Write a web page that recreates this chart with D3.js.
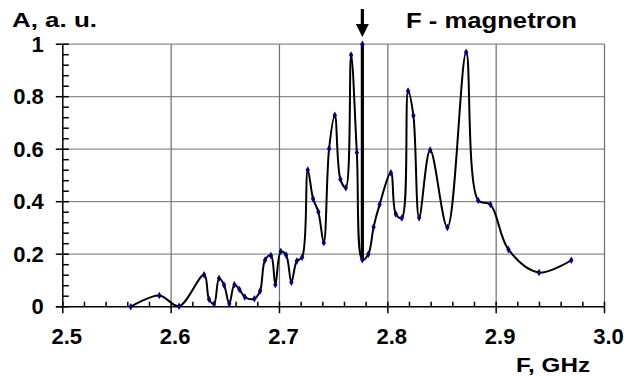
<!DOCTYPE html>
<html>
<head>
<meta charset="utf-8">
<script src="https://cdn.jsdelivr.net/npm/d3@7"></script>
<style>
  html, body { margin: 0; padding: 0; background: #fff; }
  svg { display: block; }
  text { font-family: "Liberation Sans", Arial, sans-serif; font-weight: bold; fill: #000; }
</style>
</head>
<body>
<svg id="chart" width="630" height="376"></svg>
<script>
// ---- data ----
const freqGHz = [2.5627, 2.5891, 2.6073, 2.6304, 2.635, 2.6396, 2.6442, 2.6488, 2.6537, 2.6584,
  2.663, 2.668, 2.6768, 2.6821, 2.6867, 2.6921, 2.6962, 2.7012, 2.7061, 2.711,
  2.716, 2.7209, 2.7261, 2.731, 2.7359, 2.7409, 2.7458, 2.7511, 2.7562, 2.7612,
  2.7661, 2.7714, 2.7765, 2.782, 2.7869, 2.7924, 2.8028, 2.8074, 2.8129, 2.8187,
  2.8236, 2.8289, 2.8391, 2.855, 2.8723, 2.8834, 2.8947, 2.9113, 2.9395, 2.9693];
const amplitude = [0.0, 0.043, 0.002, 0.122, 0.028, 0.01, 0.108, 0.083, 0.011, 0.084,
  0.066, 0.037, 0.03, 0.06, 0.178, 0.195, 0.084, 0.21, 0.197, 0.093,
  0.174, 0.188, 0.521, 0.411, 0.361, 0.244, 0.602, 0.729, 0.486, 0.453,
  0.959, 0.587, 0.179, 0.2, 0.304, 0.389, 0.51, 0.353, 0.338, 0.822,
  0.728, 0.339, 0.597, 0.302, 0.969, 0.405, 0.389, 0.218, 0.13, 0.177];
const magnetronFreq = [2.7765];
const magnetronAmp = [1.0];
const xTicks = [2.5, 2.6, 2.7, 2.8, 2.9, 3.0];
const xTickLabels = ["2.5", "2.6", "2.7", "2.8", "2.9", "3.0"];
const yTicks = [0, 0.2, 0.4, 0.6, 0.8, 1];
const yTickLabels = ["0", "0.2", "0.4", "0.6", "0.8", "1"];
const yAxisTitle = "A, a. u.";
const xAxisTitle = "F, GHz";
const markerTitle = "F - magnetron";

// ---- layout ----
const svg = d3.select("#chart");
const L = 62.8, R = 604.5, T = 44.2, B = 306.7;
const x = d3.scaleLinear().domain([2.5, 3.0]).range([L, R]);
const y = d3.scaleLinear().domain([0, 1]).range([B, T]);

// grid
const grid = svg.append("g");
grid.selectAll(".hg").data(yTicks.filter(d => d > 0)).enter().append("line")
  .attr("x1", L).attr("x2", R).attr("y1", d => y(d)).attr("y2", d => y(d))
  .attr("stroke", "#8c8c8c").attr("stroke-width", 1.2);
grid.selectAll(".vg").data(xTicks.filter(d => d > 2.5)).enter().append("line")
  .attr("x1", d => x(d)).attr("x2", d => x(d)).attr("y1", T).attr("y2", B)
  .attr("stroke", "#6e6e6e").attr("stroke-width", 1.2);

// x axis
const xAxisG = svg.append("g").attr("transform", `translate(0,${B})`);
xAxisG.append("line").attr("x1", 56).attr("x2", R).attr("y1", 0).attr("y2", 0)
  .attr("stroke", "#000").attr("stroke-width", 1.5);
xAxisG.selectAll(".minor").data(d3.range(1, 25).map(i => 2.5 + i * 0.02).filter(v => Math.abs(v * 10 - Math.round(v * 10)) > 1e-6))
  .enter().append("line").attr("x1", d => x(d)).attr("x2", d => x(d)).attr("y1", -5).attr("y2", 0)
  .attr("stroke", "#000").attr("stroke-width", 1.5);
xAxisG.selectAll(".major").data(xTicks).enter().append("line")
  .attr("x1", d => x(d)).attr("x2", d => x(d)).attr("y1", -5).attr("y2", 6.5)
  .attr("stroke", "#000").attr("stroke-width", 1.5);
xAxisG.selectAll(".xl").data(xTicks).enter().append("text")
  .attr("x", d => x(d) + 4).attr("y", 37).attr("text-anchor", "middle")
  .style("font-size", "22px").text((d, i) => xTickLabels[i]);

// y axis
const yAxisG = svg.append("g").attr("transform", `translate(${L},0)`);
yAxisG.append("line").attr("x1", 0).attr("x2", 0).attr("y1", T).attr("y2", B)
  .attr("stroke", "#000").attr("stroke-width", 1.5);
yAxisG.selectAll(".yminor").data(d3.range(1, 25).map(i => i * 0.04).filter(v => Math.abs(v * 5 - Math.round(v * 5)) > 1e-6))
  .enter().append("line").attr("x1", 0).attr("x2", 6).attr("y1", d => y(d)).attr("y2", d => y(d))
  .attr("stroke", "#000").attr("stroke-width", 1.5);
yAxisG.selectAll(".ymajor").data(yTicks).enter().append("line")
  .attr("x1", -7).attr("x2", 6).attr("y1", d => y(d)).attr("y2", d => y(d))
  .attr("stroke", "#000").attr("stroke-width", 1.5);
yAxisG.selectAll(".yl").data(yTicks).enter().append("text")
  .attr("x", -19).attr("y", d => y(d) + 7.5).attr("text-anchor", "end")
  .style("font-size", "22px").text((d, i) => yTickLabels[i]);

// magnetron marker line
svg.append("line")
  .attr("x1", x(magnetronFreq[0])).attr("x2", x(magnetronFreq[0]))
  .attr("y1", y(magnetronAmp[0])).attr("y2", y(amplitude[freqGHz.indexOf(magnetronFreq[0])]))
  .attr("stroke", "#000").attr("stroke-width", 3.2);

// spectrum curve
const pts = freqGHz.map((f, i) => [f, amplitude[i]]);
const line = d3.line().x(d => x(d[0])).y(d => y(d[1])).curve(d3.curveCatmullRom.alpha(0.5));
svg.append("path").attr("d", line(pts)).attr("fill", "none")
  .attr("stroke", "#000").attr("stroke-width", 2);

// markers
const sym = d3.symbol().type(d3.symbolDiamond).size(16);
svg.selectAll(".pt").data(pts.concat(magnetronFreq.map((f, i) => [f, magnetronAmp[i]])))
  .enter().append("path").attr("d", sym)
  .attr("transform", d => `translate(${x(d[0])},${y(d[1])})`)
  .attr("fill", "#000080");

// arrow
const ax = x(magnetronFreq[0]);
svg.append("path")
  .attr("d", `M${ax - 1.6},9 L${ax + 1.6},9 L${ax + 1.6},24 L${ax + 6.5},24 L${ax},37 L${ax - 6.5},24 L${ax - 1.6},24 Z`)
  .attr("fill", "#000");

// titles
svg.append("text").attr("x", 12).attr("y", 27).style("font-size", "21px")
  .attr("textLength", 85).attr("lengthAdjust", "spacingAndGlyphs").text(yAxisTitle);
svg.append("text").attr("x", 406).attr("y", 28).style("font-size", "22px")
  .attr("textLength", 171).attr("lengthAdjust", "spacingAndGlyphs").text(markerTitle);
svg.append("text").attr("x", 516).attr("y", 372).style("font-size", "21px")
  .attr("textLength", 74).attr("lengthAdjust", "spacingAndGlyphs").text(xAxisTitle);
</script>
</body>
</html>
